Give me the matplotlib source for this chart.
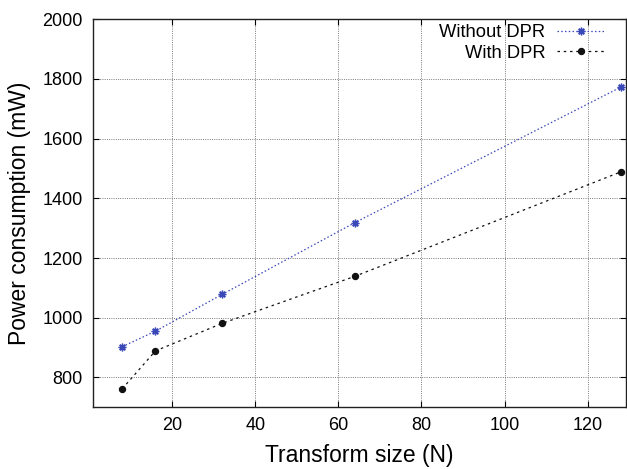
import matplotlib
matplotlib.use("Agg")
import matplotlib.pyplot as plt

# Power measurements per transform size
sizes = [8, 16, 32, 64, 128]
without_dpr = [903, 955, 1078, 1319, 1773]
with_dpr = [762, 889, 981, 1139, 1489]

x_ticks = [20, 40, 60, 80, 100, 120]
y_ticks = [800, 1000, 1200, 1400, 1600, 1800, 2000]

plt.rcParams['font.family'] = ['Liberation Sans', 'DejaVu Sans']

fig = plt.figure(figsize=(6.27, 4.69), dpi=100)
ax = fig.add_axes([92.7 / 627, 1 - 407.3 / 469, (626 - 92.7) / 627, (407.3 - 19.3) / 469])

ax.plot(sizes, without_dpr, color='#3a48b8', linewidth=0.9, linestyle=(0, (1.2, 1.8)),
        marker=(8, 2, 0), markersize=5.5, markeredgewidth=1.0, label='Without DPR')
ax.plot(sizes, with_dpr, color='#111111', linewidth=0.9, linestyle=(0, (2.0, 3.0)),
        marker='o', markersize=4.3, label='With DPR')

ax.set_xlim(0.9, 129.2)
ax.set_ylim(700, 2000)
ax.set_xticks(x_ticks)
ax.set_yticks(y_ticks)
ax.tick_params(direction='in', top=True, right=True, labelsize=13, length=4, width=0.8, pad=7)
ax.grid(True, color='#7a7a7a', linestyle=(0, (1, 1.3)), linewidth=0.7)
for s in ax.spines.values():
    s.set_linewidth(1.0)
    s.set_color('#222222')

ax.set_xlabel('Transform size (N)', fontsize=16.5, labelpad=7)
ax.set_ylabel('Power consumption (mW)', fontsize=16.5, labelpad=8)

leg = ax.legend(loc='upper right', bbox_to_anchor=(0.9606, 0.988), markerfirst=False,
                frameon=False, fontsize=13.2, handlelength=2.6, handletextpad=0.65,
                borderpad=0, borderaxespad=0, labelspacing=0.2)

fig.savefig('out.png', dpi=100)
